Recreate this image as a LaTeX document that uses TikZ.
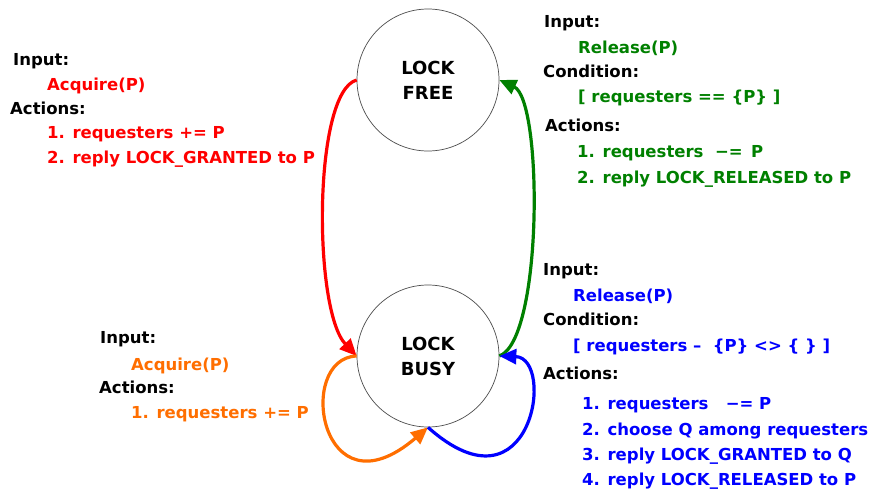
\documentclass[tikz,border=0pt]{standalone}
\usepackage{fontspec}
\setmainfont{DejaVu Sans}
\usetikzlibrary{arrows.meta}
\definecolor{redtx}{RGB}{255,0,0}
\definecolor{greentx}{RGB}{0,128,0}
\definecolor{bluetx}{RGB}{0,0,255}
\definecolor{orangetx}{RGB}{255,110,0}
\tikzset{
  state/.style={circle, draw=black!70, line width=0.7pt, minimum size=142pt,
    inner sep=0pt, align=center, font=\fontsize{18}{25}\selectfont\bfseries},
  lbl/.style={anchor=base west, inner sep=0pt, font=\fontsize{16.5}{20}\selectfont\bfseries},
  trans/.style={line width=3.2pt, -{Triangle[length=17pt,width=15pt]}},
}
\begin{document}
\begin{tikzpicture}[x=1pt,y=-1pt]
\useasboundingbox (0,0) rectangle (876,490);

% states
\node[state] (free) at (428,80) {LOCK\\FREE};
\node[state] (busy) at (428,356) {LOCK\\BUSY};

% transitions
\draw[trans, redtx] (free.west) .. controls (313,92) and (313,310) .. (busy.west);
\draw[trans, greentx] (busy.east) .. controls (543,340) and (543,100) .. (free.east);
\draw[trans, orangetx] (busy.west) .. controls (295,358) and (320,520) .. (busy.south);
\draw[trans, bluetx] (busy.south) .. controls (532,520) and (556,358) .. (busy.east);

% Acquire while free
\node[lbl] (a1) at (13,65) {Input:};
\node[lbl, redtx] (a2) at (47,90) {Acquire(P)};
\node[lbl] (a3) at (10,114) {Actions:};
\node[lbl, redtx] (a4) at (47,138) {1. requesters += P};
\node[lbl, redtx] (a5) at (47,163) {2. reply LOCK\_GRANTED to P};

% Release, last requester
\node[lbl] (r1) at (544,27) {Input:};
\node[lbl, greentx] (r2) at (578,53) {Release(P)};
\node[lbl] (r3) at (543,77) {Condition:};
\node[lbl, greentx] (r4) at (578,102) {[ requesters == \{P\} ]};
\node[lbl] (r5) at (545,131) {Actions:};
\node[lbl, greentx] (r6) at (577,157) {1. requesters \ −= \,P};
\node[lbl, greentx] (r7) at (577,183) {2. reply LOCK\_RELEASED to P};

% Acquire while busy
\node[lbl] (b1) at (100,343) {Input:};
\node[lbl, orangetx] (b2) at (131,370) {Acquire(P)};
\node[lbl] (b3) at (99,393) {Actions:};
\node[lbl, orangetx] (b4) at (131,418) {1. requesters += P};

% Release, other requesters waiting
\node[lbl] (q1) at (543,275) {Input:};
\node[lbl, bluetx] (q2) at (573,301) {Release(P)};
\node[lbl] (q3) at (543,325) {Condition:};
\node[lbl, bluetx] (q4) at (573,351) {[ requesters –\ \ \{P\} <> \{ \} ]};
\node[lbl] (q5) at (543,379) {Actions:};
\node[lbl, bluetx] (q6) at (582,409) {1. requesters \ \ −= P};
\node[lbl, bluetx] (q7) at (582,435) {2. choose Q among requesters};
\node[lbl, bluetx] (q8) at (582,460) {3. reply LOCK\_GRANTED to Q};
\node[lbl, bluetx] (q9) at (582,485) {4. reply LOCK\_RELEASED to P};
\end{tikzpicture}
\end{document}
